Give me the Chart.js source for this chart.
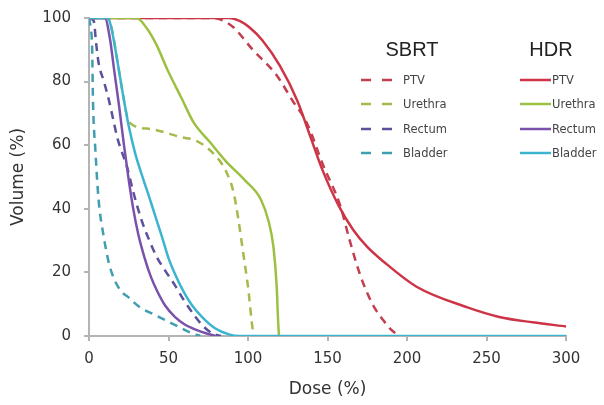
<!DOCTYPE html>
<html>
<head>
<meta charset="utf-8">
<script src="https://cdn.jsdelivr.net/npm/chart.js@4.4.1/dist/chart.umd.min.js"></script>
<style>
  html, body { margin: 0; padding: 0; background: #fff; }
  #wrap { width: 604px; height: 405px; }
</style>
</head>
<body>
<div id="wrap"><canvas id="dvhChart" width="604" height="405"></canvas></div>
<script>
// dose (%) / volume (%)
let sbrtPtvDose = [0, 78, 85, 91, 103, 118, 128, 137, 147, 158, 164, 170, 175, 180, 185, 190, 195];
let sbrtPtvVol = [100, 100, 99, 97, 90, 82, 74, 67, 54, 41, 30, 20, 13.5, 8.5, 5, 2, 0];
let hdrPtvDose = [0, 88, 95, 101, 109, 120, 131, 139, 147, 157, 166, 175, 185, 206, 238, 258, 279, 300];
let hdrPtvVol = [100, 100, 99, 97, 93, 85, 74, 63, 52, 41, 33.5, 28, 23.5, 15.5, 9, 6, 4.3, 3];

let sbrtUrethraDose = [0, 12, 15, 18, 21, 24, 27, 40, 58, 67, 78, 86, 91, 94, 97, 100, 103, 104];
let sbrtUrethraVol = [100, 100, 95, 86, 77, 69, 66.5, 65, 62.5, 61.5, 57.5, 52, 45, 36.5, 26, 15.5, 2, 0];
let hdrUrethraDose = [0, 30, 36, 42, 50, 58, 66, 76, 86, 98, 108, 113, 116, 118, 119, 119.5];
let hdrUrethraVol = [100, 100, 97, 92, 83, 75, 67, 61, 55, 49, 43, 36, 28, 16, 4, 0];

let sbrtRectumDose = [0, 3, 4.5, 6, 9.4, 12.6, 15.7, 18, 24, 28, 33, 38, 43, 48, 54, 60, 67, 72, 77, 83];
let sbrtRectumVol = [100, 99, 92, 86, 80, 74, 67, 62, 53, 45, 36.5, 30, 24.5, 20.5, 16, 11, 6, 3, 1, 0];
let hdrRectumDose = [0, 10, 13, 16, 19, 22, 25, 28, 31, 35, 39, 43, 48, 54, 60, 67, 74, 80];
let hdrRectumVol = [100, 100, 94, 83, 72, 60, 49, 39.5, 32, 24.5, 18.5, 14, 9.5, 6, 3.7, 2, 0.8, 0];

let sbrtBladderDose = [0, 1, 2, 2.5, 4, 6, 9, 13, 19.5, 24.5, 32, 40, 48, 56, 64, 70];
let sbrtBladderVol = [100, 97, 90, 74, 58.6, 43, 32, 22, 14.5, 12.3, 9, 7, 5, 3, 1, 0];
let hdrBladderDose = [0, 12, 14, 17, 21, 25, 29, 34, 38, 41.5, 46, 50, 55, 60, 65, 71, 79, 88, 95, 300];
let hdrBladderVol = [100, 100, 97, 89, 77, 66, 57.5, 49.5, 43.5, 38, 31, 24.5, 18.5, 13.5, 9.5, 6, 2.5, 0.5, 0, 0];

let structures = ['PTV', 'Urethra', 'Rectum', 'Bladder'];
let sbrtColors = ['#c33e4f', '#a5b94c', '#5b519c', '#3f9fb0'];
let hdrColors = ['#cd3547', '#9cc142', '#7b52ab', '#3cb4d0'];

let xTicks = [0, 50, 100, 150, 200, 250, 300];
let yTicks = [0, 20, 40, 60, 80, 100];

const fontFam = '"DejaVu Sans", Verdana, sans-serif';

function toPoints(doses, vols)
{
  return doses.map((d, i) => ({ x: d, y: vols[i] }));
}

function makeSet(label, group, doses, vols, color, dashed, order)
{
  return {
    label: label,
    group: group,
    data: toPoints(doses, vols),
    borderColor: color,
    backgroundColor: color,
    borderWidth: 2.5,
    borderDash: dashed ? [8, 6] : [],
    pointRadius: 0,
    fill: false,
    cubicInterpolationMode: 'monotone',
    order: order
  };
}

let datasets = [
  makeSet('PTV', 'SBRT', sbrtPtvDose, sbrtPtvVol, sbrtColors[0], true, 8),
  makeSet('Urethra', 'SBRT', sbrtUrethraDose, sbrtUrethraVol, sbrtColors[1], true, 7),
  makeSet('Rectum', 'SBRT', sbrtRectumDose, sbrtRectumVol, sbrtColors[2], true, 6),
  makeSet('Bladder', 'SBRT', sbrtBladderDose, sbrtBladderVol, sbrtColors[3], true, 5),
  makeSet('PTV', 'HDR', hdrPtvDose, hdrPtvVol, hdrColors[0], false, 4),
  makeSet('Urethra', 'HDR', hdrUrethraDose, hdrUrethraVol, hdrColors[1], false, 3),
  makeSet('Rectum', 'HDR', hdrRectumDose, hdrRectumVol, hdrColors[2], false, 2),
  makeSet('Bladder', 'HDR', hdrBladderDose, hdrBladderVol, hdrColors[3], false, 1)
];

// two column legend with group headers
const groupLegend = {
  id: 'groupLegend',
  afterDraw(chart)
  {
    const ctx = chart.ctx;
    const rows = [80, 104, 129, 153];
    ctx.save();
    ctx.fillStyle = '#222';
    ctx.font = '20px "Liberation Sans", Arial, sans-serif';
    ctx.textAlign = 'center';
    ctx.textBaseline = 'alphabetic';
    ctx.fillText('SBRT', 412, 56);
    ctx.fillText('HDR', 551, 56);

    ctx.font = '11.5px ' + fontFam;
    ctx.textAlign = 'left';
    ctx.textBaseline = 'middle';
    chart.data.datasets.forEach(ds => {
      const i = structures.indexOf(ds.label);
      const y = rows[i];
      const sbrt = ds.group === 'SBRT';
      const x0 = sbrt ? 361 : 520;
      const x1 = sbrt ? 392 : 551;
      ctx.strokeStyle = ds.borderColor;
      ctx.lineWidth = 2.5;
      ctx.setLineDash(sbrt ? [10, 11] : []);
      ctx.beginPath();
      ctx.moveTo(x0, y);
      ctx.lineTo(x1, y);
      ctx.stroke();
      ctx.setLineDash([]);
      ctx.fillStyle = '#444';
      ctx.fillText(ds.label, sbrt ? 403 : 552, y + 1);
    });
    ctx.restore();
  }
};

const axisColor = '#b4b4b4';

new Chart(document.getElementById('dvhChart').getContext('2d'), {
  type: 'line',
  data: { datasets: datasets },
  plugins: [groupLegend],
  options: {
    responsive: false,
    animation: false,
    layout: { padding: { top: 18, right: 38, bottom: 0, left: 0 } },
    plugins: {
      legend: { display: false },
      tooltip: { enabled: false }
    },
    scales: {
      x: {
        type: 'linear',
        min: 0,
        max: 300,
        afterBuildTicks(scale) { scale.ticks = xTicks.map(v => ({ value: v })); },
        afterFit(scale) { scale.height = 69; },
        ticks: { color: '#333', font: { family: fontFam, size: 15 }, padding: 9 },
        grid: { drawOnChartArea: false, drawTicks: true, tickLength: 5, color: axisColor, lineWidth: 2 },
        border: { color: axisColor, width: 2 },
        title: {
          display: true,
          text: 'Dose (%)',
          color: '#333',
          font: { family: fontFam, size: 17 },
          padding: { top: 0, bottom: 5 }
        }
      },
      y: {
        min: 0,
        max: 100,
        afterBuildTicks(scale) { scale.ticks = yTicks.map(v => ({ value: v })); },
        afterFit(scale) {
          scale.width = 89;
          scale.paddingTop = 0;
          scale.paddingBottom = 0;
        },
        ticks: { color: '#333', font: { family: fontFam, size: 15 }, padding: 13 },
        grid: { drawOnChartArea: false, drawTicks: true, tickLength: 5, color: axisColor, lineWidth: 2 },
        border: { color: axisColor, width: 2 },
        title: {
          display: true,
          text: 'Volume (%)',
          color: '#333',
          font: { family: fontFam, size: 17 },
          padding: { top: 8, bottom: 0 }
        }
      }
    }
  }
});
</script>
</body>
</html>
